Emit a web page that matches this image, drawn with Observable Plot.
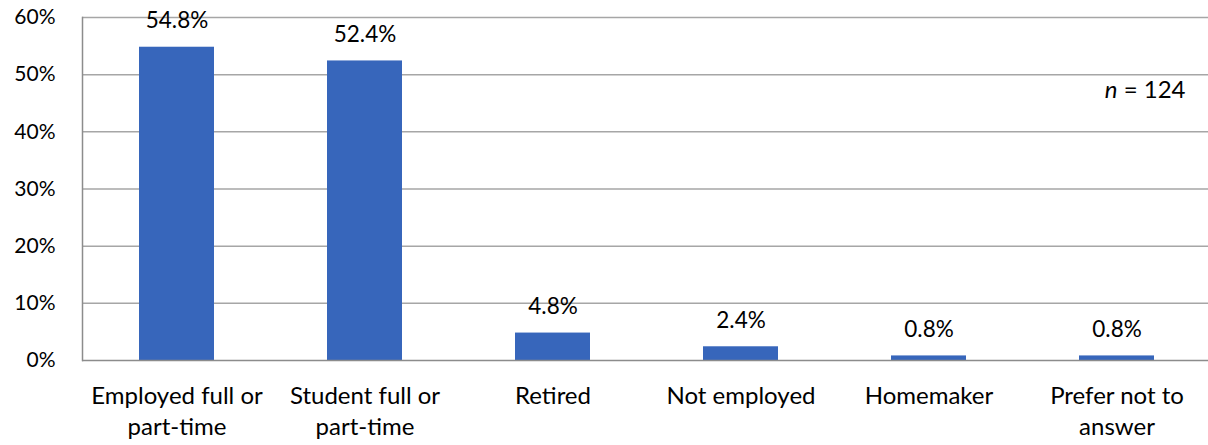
<!DOCTYPE html>
<html>
<head>
<meta charset="utf-8">
<script src="https://cdn.jsdelivr.net/npm/d3@7"></script>
<script src="https://cdn.jsdelivr.net/npm/@observablehq/plot@0.6"></script>
<style>
  html, body { margin: 0; padding: 0; background: #fff; }
  #chart svg { display: block; }
</style>
</head>
<body>
<div id="chart"></div>
<script>
const categories = ["Employed full or part-time", "Student full or part-time", "Retired", "Not employed", "Homemaker", "Prefer not to answer"];
const tickLabels = ["Employed full or\npart-time", "Student full or\npart-time", "Retired", "Not employed", "Homemaker", "Prefer not to\nanswer"];
const values = [54.8, 52.4, 4.8, 2.4, 0.8, 0.8];
const yTicks = [0, 10, 20, 30, 40, 50, 60];
const sampleSize = 124;

const data = categories.map((c, i) => ({category: c, value: values[i], label: tickLabels[i]}));
const labelOf = new Map(data.map(d => [d.category, d.label]));

const FONT = "Lato, 'Open Sans', sans-serif";
const W = 1208, H = 445;

const chart = Plot.plot({
  width: W,
  height: H,
  marginLeft: 82,
  marginRight: 0,
  marginTop: 17,
  marginBottom: 85,
  style: {fontFamily: FONT, fontSize: "21px", color: "#000", background: "#fff"},
  x: {domain: categories, range: [82, 1212], paddingInner: 0.6, paddingOuter: 0.3, align: 0.5},
  y: {domain: [0, 60]},
  marks: [
    Plot.ruleY(yTicks.filter(t => t > 0), {stroke: "#a6a6a6", strokeWidth: 1.5}),
    Plot.barY(data, {x: "category", y: "value", fill: "#3766bb"}),
    Plot.ruleY([0], {stroke: "#8c8c8c", strokeWidth: 1.5}),
    Plot.frame({anchor: "left", stroke: "#8c8c8c", strokeWidth: 1.5}),
    Plot.text(data, {x: "category", y: "value", text: d => d.value.toFixed(1) + "%", lineAnchor: "bottom", dy: -19, fontSize: 22.5, fill: "#000"}),
    Plot.axisY({ticks: yTicks, tickFormat: d => d + "%", tickSize: 0, tickPadding: 27, fontSize: 21, fill: "#000", label: null}),
    Plot.axisX({tickFormat: d => labelOf.get(d), tickSize: 0, tickPadding: 21, fontSize: 24, lineHeight: 1.3, fill: "#000", label: null}),
    Plot.text([sampleSize], {
      frameAnchor: "top-right", dx: -23, dy: 80, textAnchor: "end", lineAnchor: "bottom", fontSize: 24, fill: "#000",
      text: d => "n = " + d,
      render(index, scales, values, dimensions, context, next) {
        const g = next(index, scales, values, dimensions, context);
        d3.select(g).selectAll("text").each(function(d) {
          const t = d3.select(this);
          t.text(null);
          t.append("tspan").attr("font-style", "italic").text("n");
          t.append("tspan").text(" = " + sampleSize);
        });
        return g;
      }
    })
  ]
});
document.getElementById("chart").appendChild(chart);
</script>
</body>
</html>
